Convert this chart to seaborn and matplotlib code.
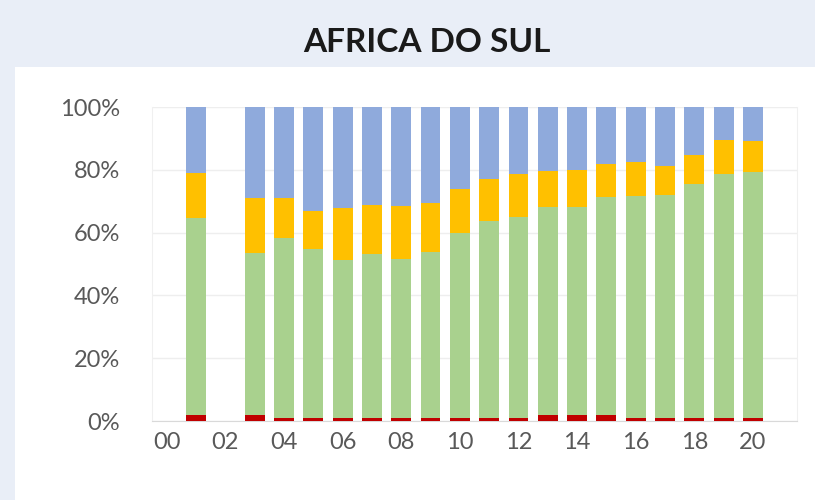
import numpy as np
import pandas as pd
import seaborn as sns
import matplotlib.pyplot as plt
from matplotlib.patches import Rectangle

# shares (%) per year, bottom to top; None = no data
years = [f"{y:02d}" for y in range(21)]
red = [None, 2.0, None, 2.0, 1.0, 1.0, 1.0, 1.0, 1.0, 1.0, 1.0,
       1.0, 1.0, 2.0, 2.0, 2.0, 1.0, 1.0, 1.0, 1.0, 1.0]
green = [None, 62.6, None, 51.4, 57.2, 53.7, 50.3, 52.1, 50.5, 52.8, 58.8,
         62.7, 64.0, 66.2, 66.0, 69.2, 70.6, 70.9, 74.6, 77.8, 78.3]
orange = [None, 14.4, None, 17.5, 12.7, 12.3, 16.4, 15.7, 17.0, 15.7, 14.1,
          13.5, 13.8, 11.3, 11.9, 10.8, 10.9, 9.2, 9.0, 10.6, 9.9]
blue = [None, 21.0, None, 29.1, 29.1, 33.0, 32.3, 31.2, 31.5, 30.5, 26.1,
        22.8, 21.2, 20.5, 20.1, 18.0, 17.5, 18.9, 15.4, 10.6, 10.8]

colors = {"red": "#C00000", "green": "#A9D18E", "orange": "#FFC000", "blue": "#8FAADC"}

df = pd.DataFrame({"year": years, "red": red, "green": green,
                   "orange": orange, "blue": blue}).dropna()
# cumulative tops so the series can be overlaid from the top down
df["c_red"] = df["red"] / 100
df["c_green"] = (df["red"] + df["green"]) / 100
df["c_orange"] = (df["red"] + df["green"] + df["orange"]) / 100
df["c_blue"] = (df["red"] + df["green"] + df["orange"] + df["blue"]) / 100

sns.set_style("white")
plt.rcParams["font.family"] = ["Lato", "DejaVu Sans"]

fig = plt.figure(figsize=(8.15, 5), dpi=100)
fig.patch.set_facecolor("#E9EEF7")
fig.patches.append(Rectangle((15 / 815, 0), 1, 433 / 500, transform=fig.transFigure,
                             facecolor="white", edgecolor="none", zorder=-1))

ax = fig.add_axes([152 / 815, 1 - 421 / 500, (797 - 152) / 815, (421 - 107) / 500])
ax.set_zorder(2)
ax.set_facecolor("white")

for name in ["blue", "orange", "green", "red"]:
    sns.barplot(data=df, x="year", y="c_" + name, order=years, color=colors[name],
                width=0.68, saturation=1, edgecolor="none", linewidth=0, ax=ax, zorder=3)

ax.set_xlim(-0.5, 21.5)
ax.set_ylim(0, 1)
ax.set_yticks(np.arange(0, 1.01, 0.2))
ax.set_yticklabels([f"{int(round(v * 100))}%" for v in np.arange(0, 1.01, 0.2)])
ax.set_xticks(range(0, 21, 2))
ax.set_xticklabels(years[::2])
ax.set_xlabel("")
ax.set_ylabel("")

ax.yaxis.grid(True, color="#EEEEEE", linewidth=1)
ax.set_axisbelow(True)
ax.spines["top"].set_visible(False)
ax.spines["left"].set_color("#F0F0F0")
ax.spines["right"].set_color("#F0F0F0")
ax.spines["bottom"].set_color("#D9D9D9")
ax.tick_params(axis="y", length=0, pad=23, labelsize=17, labelcolor="#595959")
ax.tick_params(axis="x", length=0, pad=8, labelsize=17, labelcolor="#595959")

fig.text(0.524, 1 - 42 / 500, "AFRICA DO SUL", ha="center", va="center",
         fontsize=24, fontweight="bold", color="#1A1A1A")

fig.savefig("out.png", dpi=100)
